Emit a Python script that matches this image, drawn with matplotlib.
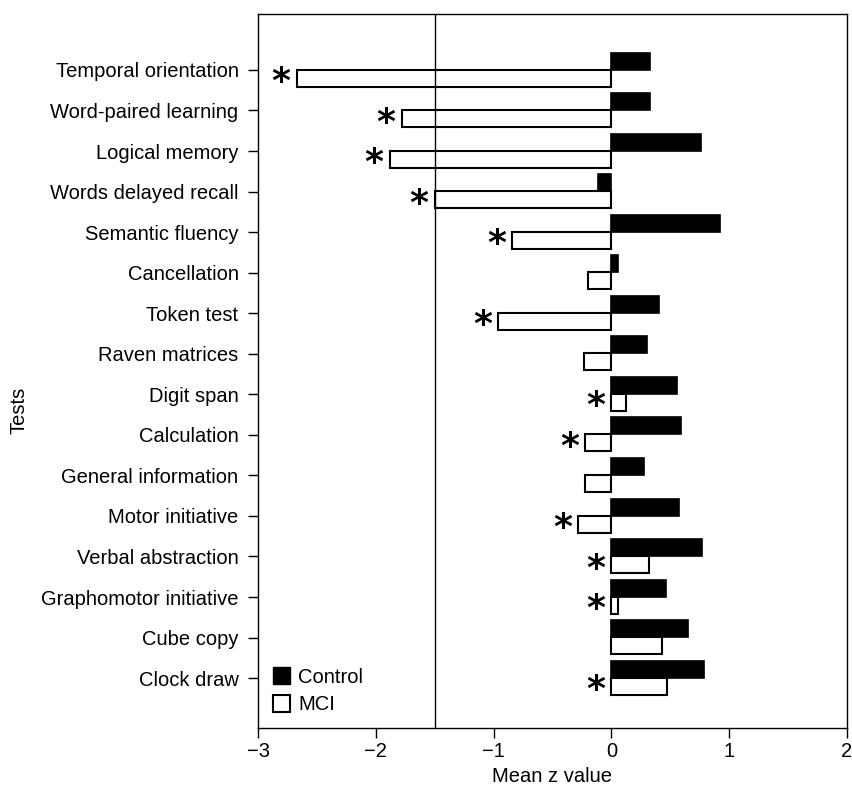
import matplotlib
matplotlib.use("Agg")
import matplotlib.pyplot as plt
import numpy as np
from matplotlib.patches import Patch

tests = ["Temporal orientation", "Word-paired learning", "Logical memory",
         "Words delayed recall", "Semantic fluency", "Cancellation", "Token test",
         "Raven matrices", "Digit span", "Calculation", "General information",
         "Motor initiative", "Verbal abstraction", "Graphomotor initiative",
         "Cube copy", "Clock draw"]
control = [0.33, 0.33, 0.76, -0.11, 0.92, 0.06, 0.40, 0.30, 0.56, 0.59, 0.28,
           0.57, 0.77, 0.46, 0.65, 0.79]
mci = [-2.67, -1.78, -1.88, -1.50, -0.84, -0.20, -0.96, -0.23, 0.12, -0.22,
       -0.22, -0.28, 0.32, 0.06, 0.43, 0.47]
significant = [True, True, True, True, True, False, True, False, True, True,
               False, True, True, True, False, True]

plt.rcParams['font.family'] = ['Liberation Sans', 'DejaVu Sans']
FS = 14.5

fig = plt.figure(figsize=(8.52, 7.93), dpi=100)
ax = fig.add_axes([258/852, 1-728/793, (847-258)/852, (728-14)/793])

y = np.arange(len(tests))
h = 0.42
ax.barh(y - 0.22, control, height=h, color='black', edgecolor='black', linewidth=1.2, label='Control')
ax.barh(y + 0.2, mci, height=h, color='white', edgecolor='black', linewidth=1.5, label='MCI')

for yi, m, s in zip(y, mci, significant):
    if s:
        ax.annotate('*', xy=(min(m, 0), yi + 0.2), xytext=(-16, -4),
                    textcoords='offset pixels', ha='center', va='center',
                    fontsize=26, fontweight='bold', family='DejaVu Sans')

ax.axvline(-1.5, color='black', linewidth=1)

ax.set_xlim(-3, 2)
ax.set_ylim(len(tests) - 1 + 1.23, -1.38)
ax.set_xticks([-3, -2, -1, 0, 1, 2])
ax.set_xticklabels(['\u22123', '\u22122', '\u22121', '0', '1', '2'])
ax.set_yticks(y)
ax.set_yticklabels(tests)
ax.tick_params(axis='both', direction='out', length=7, width=1, labelsize=FS, colors='black')
ax.tick_params(axis='y', pad=7)
ax.tick_params(axis='x', pad=3)
for sp in ax.spines.values():
    sp.set_linewidth(1)
ax.set_xlabel('Mean z value', fontsize=FS)
ax.xaxis.set_label_coords(0.5, -0.055)
ax.set_ylabel('Tests', fontsize=FS)
ax.yaxis.set_label_coords(-0.39, 0.445)

handles = [Patch(facecolor='black', edgecolor='black', label='Control'),
           Patch(facecolor='white', edgecolor='black', linewidth=1.5, label='MCI')]
ax.legend(handles=handles, loc='lower left', frameon=False, fontsize=FS,
          handlelength=0.85, handleheight=0.95, handletextpad=0.4, labelspacing=0.4,
          borderaxespad=0.0, bbox_to_anchor=(0.012, 0.008))

fig.savefig('out.png', dpi=100)
